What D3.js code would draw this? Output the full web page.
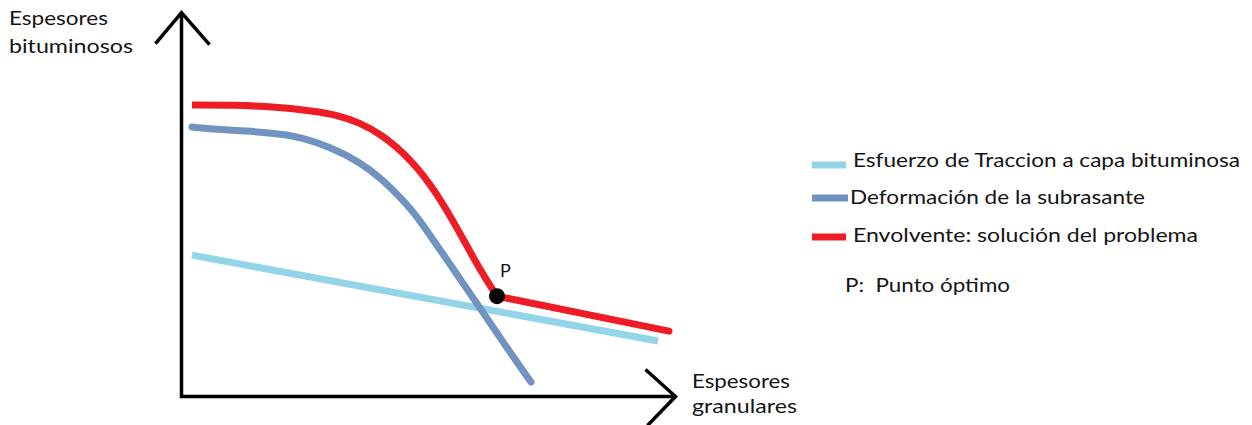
<!DOCTYPE html>
<html>
<head>
<meta charset="utf-8">
<script src="https://cdn.jsdelivr.net/npm/d3@7"></script>
<style>
  html, body { margin: 0; padding: 0; background: #fff; }
  svg { display: block; }
  text { font-family: Lato, "Open Sans", sans-serif; fill: #141414; }
</style>
</head>
<body>
<svg id="chart" width="1252" height="425"></svg>
<script>
// ---- data (abstract units: x 0..100, y 0..100) ----
const tractionX = [2.1, 95.3];
const tractionY = [37.2, 14.6];

const deformX = [2.1, 5.7, 13.1, 19.7, 23.7, 29.7, 35.7, 40.3, 43.7, 47.1, 50.3, 53.7, 55.7, 59.3, 64.3, 69.9];
const deformY = [70.9, 70.4, 69.9, 69.1, 68.3, 65.7, 61.7, 57.0, 52.5, 47.5, 41.2, 34.9, 30.9, 24.1, 14.3, 3.8];

const envCurveX = [2.1, 10.3, 19.1, 26.3, 31.1, 35.7, 39.9, 46.1, 51.1, 55.7, 59.7, 63.1];
const envCurveY = [76.7, 76.7, 76.2, 75.1, 74.1, 72.0, 69.1, 62.2, 53.5, 43.0, 33.3, 26.4];
const envLineX = [63.1, 97.5];
const envLineY = [26.4, 17.2];

const optimum = { x: 63.1, y: 26.4, label: "P" };

const axisMaxX = 98.8;
const axisMaxY = 101;
const yAxisLabel = ["Espesores", "bituminosos"];
const xAxisLabel = ["Espesores", "granulares"];

const legendLabels = [
  "Esfuerzo de Traccion a capa bituminosa",
  "Deformación de la subrasante",
  "Envolvente: solución del problema"
];
const legendNote = "P:  Punto óptimo";

// ---- styles ----
const colors = ["#92d5e8", "#7093c0", "#ee1c25"];

const svg = d3.select("#chart");
svg.append("rect").attr("width", 1252).attr("height", 425).attr("fill", "#fff");

const x = d3.scaleLinear().domain([0, 100]).range([181.5, 681.5]);
const y = d3.scaleLinear().domain([0, 100]).range([396.5, 16.5]);

const zip = (xs, ys) => xs.map((v, i) => [v, ys[i]]);
const lineCurve = d3.line().x(d => x(d[0])).y(d => y(d[1])).curve(d3.curveBasis);
const lineStraight = d3.line().x(d => x(d[0])).y(d => y(d[1]));

// axes
const ax = svg.append("g").attr("stroke", "#000").attr("stroke-width", 3.5).attr("fill", "none")
  .attr("stroke-linecap", "butt");
ax.append("line").attr("x1", x(0)).attr("y1", y(0) + 1.5).attr("x2", x(0)).attr("y2", y(axisMaxY));
ax.append("line").attr("x1", x(0) - 1.5).attr("y1", y(0)).attr("x2", x(axisMaxX)).attr("y2", y(0));
// arrow heads
ax.append("path").attr("stroke-linejoin", "miter")
  .attr("d", `M${x(0) - 26},${y(axisMaxY) + 31} L${x(0)},${y(axisMaxY)} L${x(0) + 28},${y(axisMaxY) + 32}`);
ax.append("path").attr("stroke-linejoin", "miter")
  .attr("d", `M${x(axisMaxX) - 30},${y(0) - 27} L${x(axisMaxX)},${y(0)} L${x(axisMaxX) - 28},${y(0) + 29}`);

// series
svg.append("path").attr("d", lineStraight(zip(tractionX, tractionY)))
  .attr("fill", "none").attr("stroke", colors[0]).attr("stroke-width", 7);
svg.append("path").attr("d", lineCurve(zip(deformX, deformY)))
  .attr("fill", "none").attr("stroke", colors[1]).attr("stroke-width", 7).attr("stroke-linecap", "round");
const envG = svg.append("g").attr("fill", "none").attr("stroke", colors[2]).attr("stroke-width", 7);
envG.append("path").attr("d", lineCurve(zip(envCurveX, envCurveY)));
envG.append("path").attr("d", lineStraight(zip(envLineX, envLineY))).attr("stroke-linecap", "round");

// optimum point
svg.append("circle").attr("cx", x(optimum.x)).attr("cy", y(optimum.y)).attr("r", 8).attr("fill", "#000");
svg.append("text").attr("x", x(optimum.x) + 3).attr("y", y(optimum.y) - 19)
  .attr("font-size", 18).text(optimum.label);

// axis labels
const fs = 19;
svg.append("text").attr("x", 9).attr("y", 25).attr("font-size", fs)
  .attr("textLength", 99).attr("lengthAdjust", "spacingAndGlyphs").text(yAxisLabel[0]);
svg.append("text").attr("x", 9).attr("y", 53).attr("font-size", fs)
  .attr("textLength", 124).attr("lengthAdjust", "spacingAndGlyphs").text(yAxisLabel[1]);
svg.append("text").attr("x", 692).attr("y", 388).attr("font-size", fs)
  .attr("textLength", 98).attr("lengthAdjust", "spacingAndGlyphs").text(xAxisLabel[0]);
svg.append("text").attr("x", 692).attr("y", 413).attr("font-size", fs)
  .attr("textLength", 105).attr("lengthAdjust", "spacingAndGlyphs").text(xAxisLabel[1]);

// legend
const legY = [165, 198, 237];
const legTextX = [853, 850, 853];
const legBase = [167, 204, 242];
const legWidth = [387, 295, 345];
legendLabels.forEach((lab, i) => {
  svg.append("line").attr("x1", 812).attr("x2", i === 1 ? 848 : 846)
    .attr("y1", legY[i]).attr("y2", legY[i])
    .attr("stroke", colors[i]).attr("stroke-width", 7);
  svg.append("text").attr("x", legTextX[i]).attr("y", legBase[i]).attr("font-size", fs)
    .attr("textLength", legWidth[i]).attr("lengthAdjust", "spacingAndGlyphs").text(lab);
});
svg.append("text").attr("x", 845).attr("y", 292).attr("font-size", fs)
  .attr("textLength", 165).attr("lengthAdjust", "spacingAndGlyphs")
  .attr("xml:space", "preserve").style("white-space", "pre").text(legendNote);
</script>
</body>
</html>
